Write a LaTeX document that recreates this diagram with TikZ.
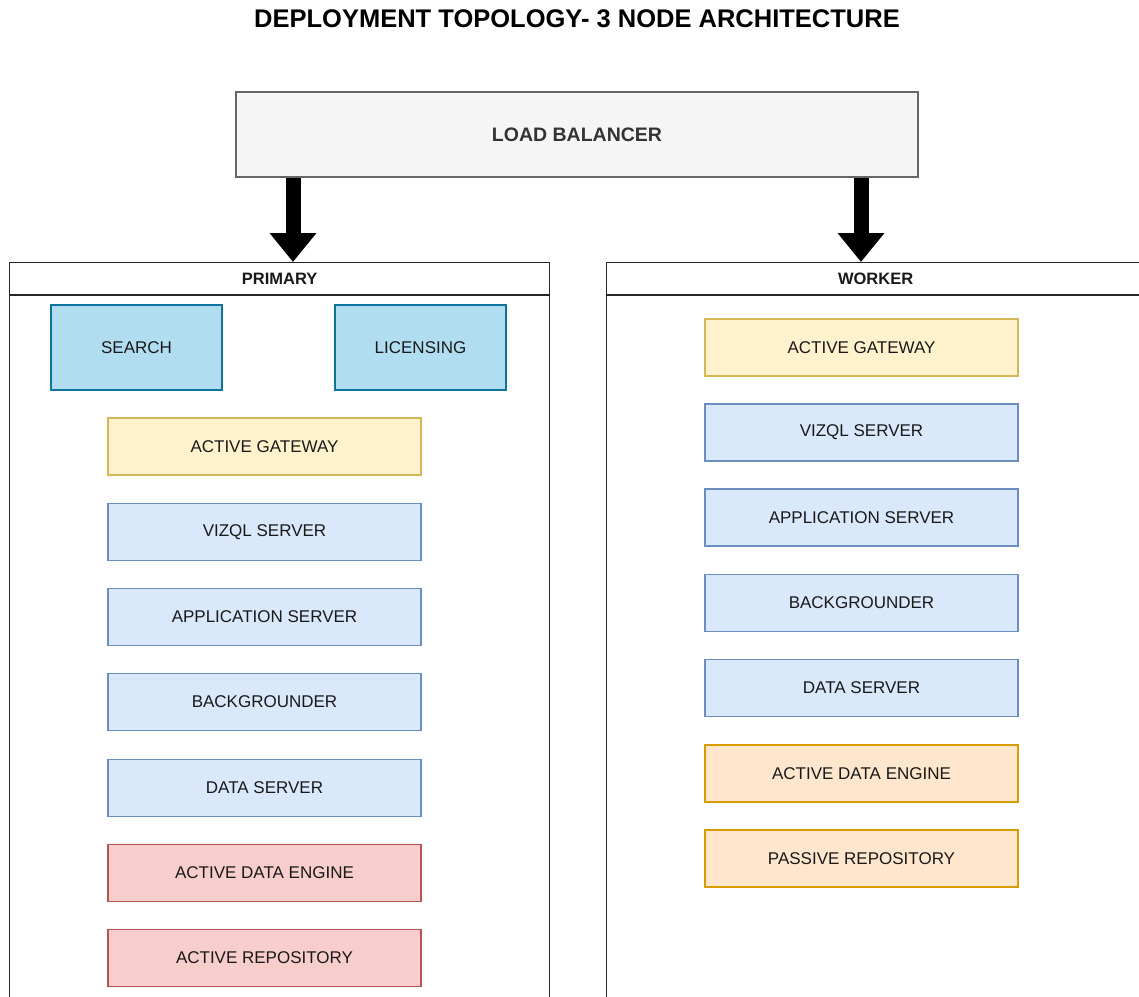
\documentclass[tikz,border=0pt]{standalone}
\usepackage{fontspec}
\setmainfont{Liberation Sans}
\usetikzlibrary{arrows.meta,calc}
\definecolor{lbfill}{HTML}{F5F5F5}
\definecolor{lbdraw}{HTML}{666666}
\definecolor{lbtext}{HTML}{333333}
\definecolor{cyanfill}{HTML}{B1DDF0}
\definecolor{cyandraw}{HTML}{10739E}
\definecolor{yelfill}{HTML}{FFF2CC}
\definecolor{yeldraw}{HTML}{D6B656}
\definecolor{bluefill}{HTML}{DAE8FC}
\definecolor{bluedraw}{HTML}{6C8EBF}
\definecolor{redfill}{HTML}{F8CECC}
\definecolor{reddraw}{HTML}{B85450}
\definecolor{orfill}{HTML}{FFE6CC}
\definecolor{ordraw}{HTML}{D79B00}
\tikzset{
  txt/.style={font=\fontsize{17}{20}\selectfont, text=black!90},
  comp/.style={txt, draw, line width=1.3pt, minimum width=313pt, minimum height=57pt, inner sep=0pt},
  gate/.style={comp, fill=yelfill, draw=yeldraw},
  bluebox/.style={comp, fill=bluefill, draw=bluedraw},
  redbox/.style={comp, fill=redfill, draw=reddraw},
  orbox/.style={comp, fill=orfill, draw=ordraw},
  cyanbox/.style={txt, draw=cyandraw, fill=cyanfill, line width=1.3pt, minimum width=171pt, minimum height=85pt, inner sep=0pt},
  container/.style={draw=black!85, line width=1.3pt, minimum width=540pt, minimum height=780pt, inner sep=0pt, anchor=north west},
  head/.style={font=\bfseries\fontsize{16.5}{19}\selectfont, text=black!90},
  bigarrow/.style={line width=15pt, -{Triangle[width=45pt,length=29pt]}},
}
\begin{document}
\begin{tikzpicture}[x=1pt,y=-1pt]
\useasboundingbox (0,0) rectangle (1139,996);
\fill[white] (0,0) rectangle (1139,996);

\node[font=\bfseries\fontsize{25.5}{29}\selectfont] (title) at (577,19) {DEPLOYMENT TOPOLOGY- 3 NODE ARCHITECTURE};

\node[draw=lbdraw, fill=lbfill, line width=1.3pt, minimum width=682pt, minimum height=85pt, inner sep=0pt,
      font=\bfseries\fontsize{19.5}{23}\selectfont, text=lbtext] (lb) at (577,134.5) {LOAD BALANCER};

% containers
\node[container] (primary) at (9,262) {};
\draw[draw=black!85, line width=1.3pt] ($(primary.north west)+(0,33)$) -- ($(primary.north east)+(0,33)$);
\node[head] (ptitle) at ($(primary.north)+(0,16.5)$) {PRIMARY};

\node[container, minimum width=538pt] (worker) at (606,262) {};
\draw[draw=black!85, line width=1.3pt] ($(worker.north west)+(0,33)$) -- ($(worker.north east)+(0,33)$);
\node[head] (wtitle) at ($(worker.north)+(0,16.5)$) {WORKER};

% arrows
\coordinate (pa) at (293,262);
\coordinate (wa) at (861,262);
\draw[bigarrow] (lb.south -| pa) -- (pa);
\draw[bigarrow] (lb.south -| wa) -- (wa);

% primary components
\node[cyanbox] (search) at (136.5,347.5) {SEARCH};
\node[cyanbox] (licensing) at (420.5,347.5) {LICENSING};
\node[gate] (pgw) at (264.5,446.5) {ACTIVE GATEWAY};
\node[bluebox] (pviz) at (264.5,532) {VIZQL SERVER};
\node[bluebox] (papp) at (264.5,617) {APPLICATION SERVER};
\node[bluebox] (pbg) at (264.5,702) {BACKGROUNDER};
\node[bluebox] (pds) at (264.5,788) {DATA SERVER};
\node[redbox] (pade) at (264.5,873) {ACTIVE DATA ENGINE};
\node[redbox] (prepo) at (264.5,958) {ACTIVE REPOSITORY};

% worker components
\node[gate] (wgw) at (861.5,347.5) {ACTIVE GATEWAY};
\node[bluebox] (wviz) at (861.5,432.5) {VIZQL SERVER};
\node[bluebox] (wapp) at (861.5,517.5) {APPLICATION SERVER};
\node[bluebox] (wbg) at (861.5,603) {BACKGROUNDER};
\node[bluebox] (wds) at (861.5,688) {DATA SERVER};
\node[orbox] (wade) at (861.5,773.5) {ACTIVE DATA ENGINE};
\node[orbox] (wrepo) at (861.5,858.5) {PASSIVE REPOSITORY};
\end{tikzpicture}
\end{document}
